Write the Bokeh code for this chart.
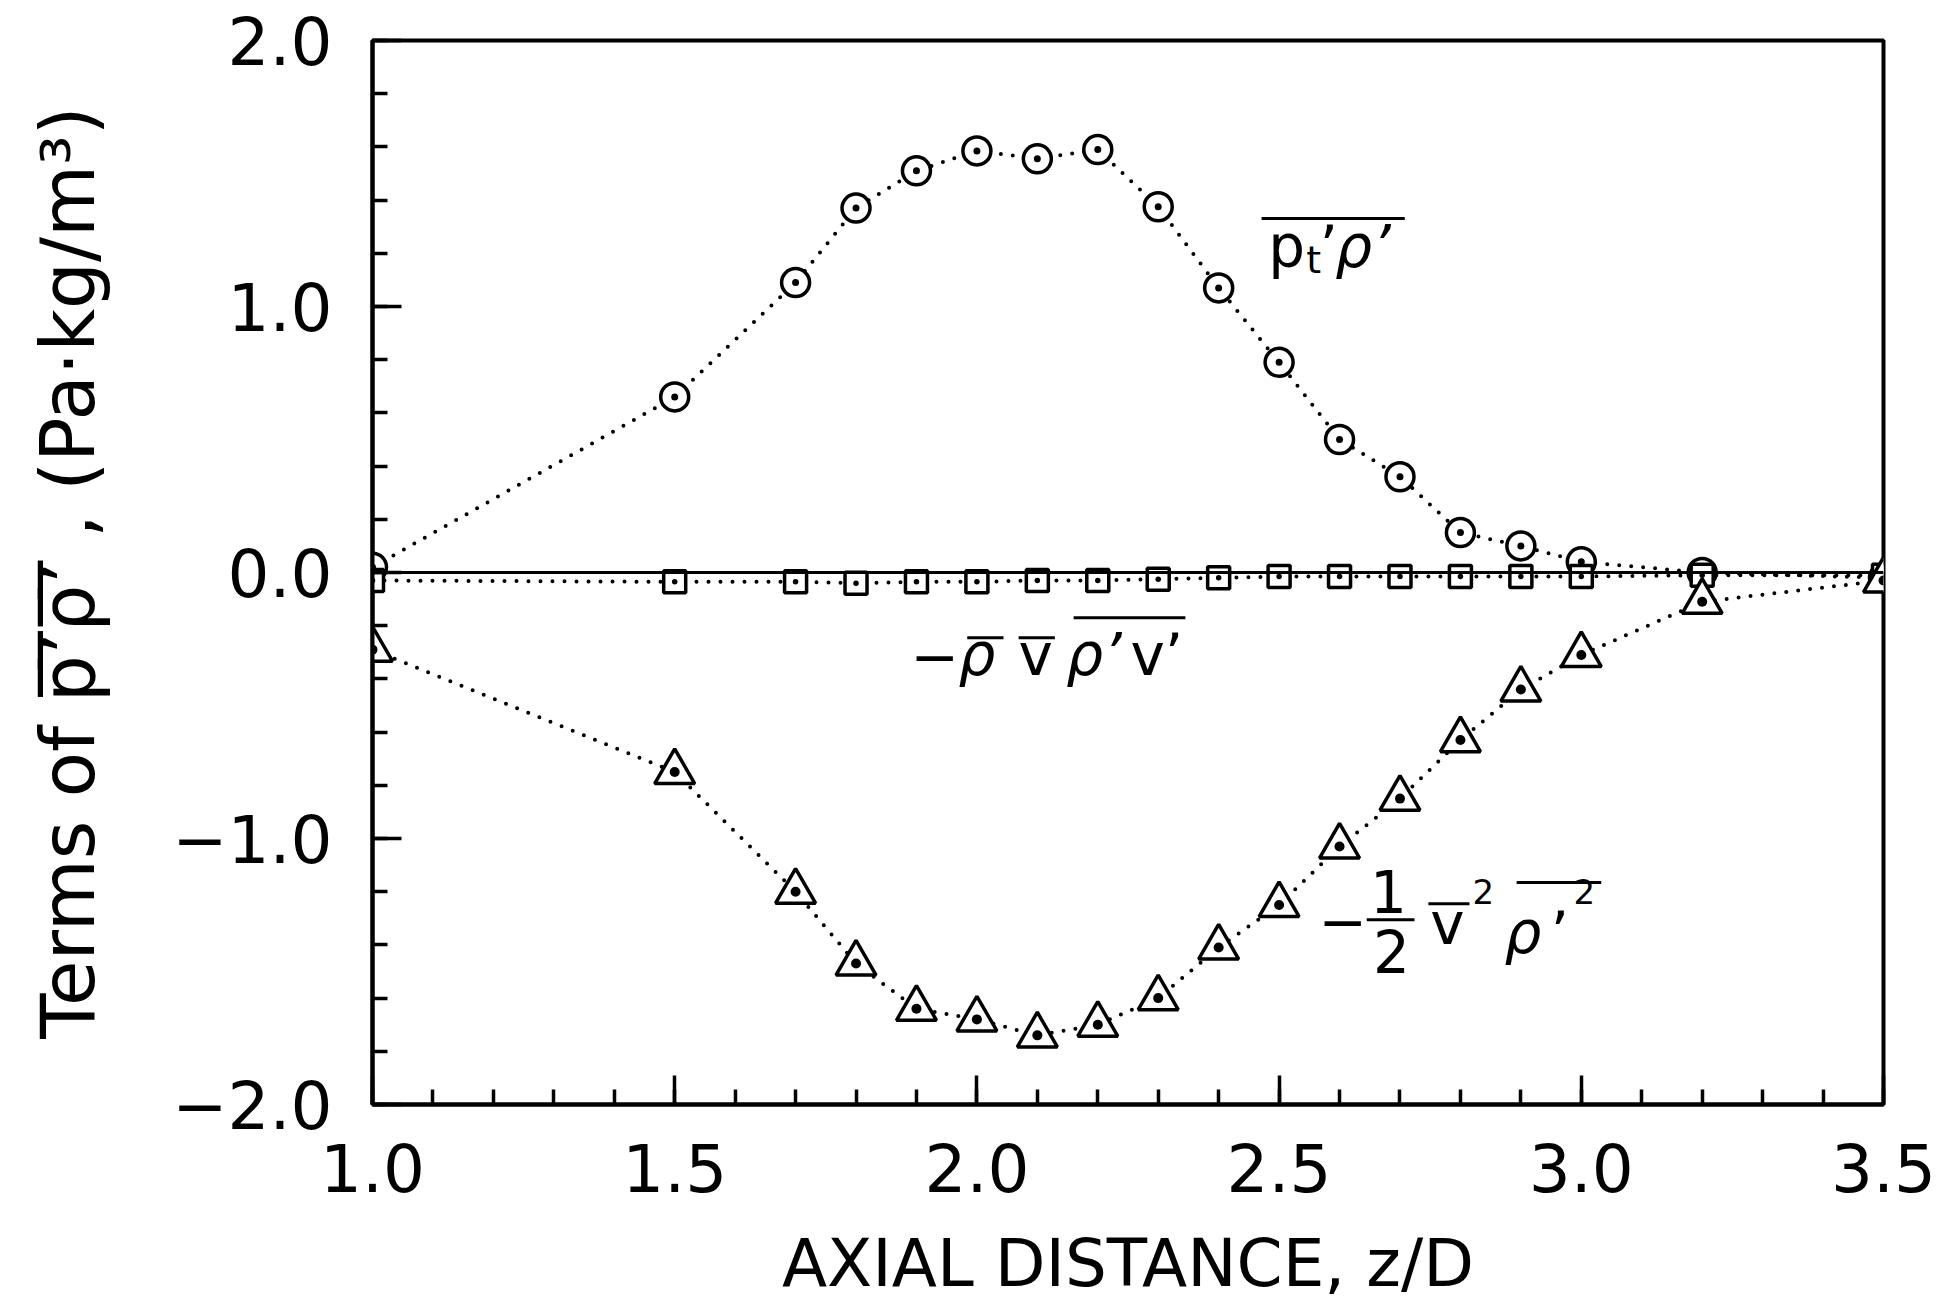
from bokeh.plotting import figure
from bokeh.models import Range1d, FixedTicker, Label, Span, ColumnDataSource
from bokeh.embed import file_html
from bokeh.resources import INLINE

# ---- data -------------------------------------------------------------
z_over_d = [1.0, 1.5, 1.7, 1.8, 1.9, 2.0, 2.1, 2.2, 2.3, 2.4, 2.5, 2.6, 2.7, 2.8,
            2.9, 3.0, 3.2, 3.5]
# p_t' rho' correlation (circles)
pt_rho = [0.02, 0.66, 1.09, 1.37, 1.51, 1.585, 1.555, 1.59, 1.375, 1.07, 0.79,
          0.50, 0.36, 0.15, 0.10, 0.04, 0.0, -0.02]
# -rho_bar v_bar rho'v' (squares)
rho_v_flux = [-0.03, -0.035, -0.035, -0.04, -0.035, -0.035, -0.03, -0.03, -0.025,
              -0.02, -0.015, -0.015, -0.015, -0.015, -0.015, -0.015, -0.01, -0.01]
# -1/2 v_bar^2 rho'^2 (triangles)
half_v2_rho2 = [-0.29, -0.75, -1.20, -1.47, -1.64, -1.68, -1.74, -1.70, -1.60,
                -1.41, -1.25, -1.03, -0.85, -0.63, -0.44, -0.31, -0.11, -0.03]

x_ticks = [1.0, 1.5, 2.0, 2.5, 3.0, 3.5]
x_tick_labels = ["1.0", "1.5", "2.0", "2.5", "3.0", "3.5"]
x_minor = [round(1.0 + 0.1 * i, 2) for i in range(26)]
y_ticks = [-2, -1, 0, 1, 2]
y_tick_labels = ["\u22122.0", "\u22121.0", "0.0", "1.0", "2.0"]
y_minor = [round(-2.0 + 0.2 * i, 2) for i in range(21)]

x_title = "AXIAL DISTANCE, z/D"
y_title = "Terms of p\u0305\u2019\u0305\u03c1\u0305\u2019\u0305 , (Pa\u00b7kg/m\u00b3)"

FONT = "DejaVu Sans"

p = figure(width=1957, height=1306, output_backend="svg", toolbar_location=None,
           x_range=Range1d(1.0, 3.5), y_range=Range1d(-2.0, 2.0),
           min_border_left=372, min_border_right=74, min_border_top=40,
           min_border_bottom=202)
p.background_fill_color = "white"
p.border_fill_color = "white"
p.grid.visible = False
p.outline_line_color = "black"
p.outline_line_width = 4

for ax in (p.xaxis[0], p.yaxis[0]):
    ax.axis_line_width = 4
    ax.axis_line_color = "black"
    ax.major_tick_in = 29
    ax.major_tick_out = 0
    ax.minor_tick_in = 15
    ax.minor_tick_out = 0
    ax.major_tick_line_width = 3.5
    ax.minor_tick_line_width = 3.5
    ax.major_label_text_font = FONT
    ax.major_label_text_font_size = "66px"
    ax.major_label_text_color = "black"
    ax.axis_label_text_font = FONT
    ax.axis_label_text_font_style = "normal"
    ax.axis_label_text_color = "black"

p.xaxis.ticker = FixedTicker(ticks=x_ticks, minor_ticks=x_minor)
p.xaxis.major_label_overrides = dict(zip(x_ticks, x_tick_labels))
p.xaxis.major_label_standoff = 38
p.xaxis.axis_label = x_title
p.xaxis.axis_label_text_font_size = "66px"
p.xaxis.axis_label_standoff = 30

p.yaxis.ticker = FixedTicker(ticks=y_ticks, minor_ticks=y_minor)
p.yaxis.major_label_overrides = dict(zip(y_ticks, y_tick_labels))
p.yaxis.major_label_standoff = 40
p.yaxis.axis_label = y_title
p.yaxis.axis_label_text_font_size = "74px"
p.yaxis.axis_label_standoff = 58

src = ColumnDataSource(dict(z=z_over_d, c=pt_rho, s=rho_v_flux, t=half_v2_rho2))

dots = dict(line_color="black", line_width=4, line_dash="0 12", line_cap="round")
for col in ("c", "s", "t"):
    p.line("z", col, source=src, **dots)

p.scatter("z", "c", source=src, marker="circle_dot", size=28, line_width=3.5,
          line_color="black", fill_color="white")
p.scatter("z", "s", source=src, marker="square_dot", size=22, line_width=3.5,
          line_color="black", fill_color="white")
p.scatter("z", "t", source=src, marker="triangle_dot", size=40, line_width=3.5,
          line_color="black", fill_color="white")

p.add_layout(Span(location=0, dimension="width", line_color="black", line_width=3))


def txt(x, y, s, size=58, italic=False, align="left"):
    p.add_layout(Label(x=x, y=y, text=s, text_font=FONT,
                       text_font_size=f"{size}px",
                       text_font_style="italic" if italic else "normal",
                       text_align=align, text_baseline="alphabetic",
                       text_color="black"))


def bar(x0, x1, y, w=3):
    p.segment(x0=[x0], y0=[y], x1=[x1], y1=[y], line_color="black", line_width=w)


# curve label: overline p_t' rho'
bar(2.471, 2.708, 1.331)
txt(2.482, 1.224, "p")
txt(2.545, 1.175, "t", size=38)
txt(2.567, 1.224, "\u2019")
txt(2.593, 1.224, "\u03c1\u2019", italic=True)

# curve label: - rho_bar v_bar overline(rho' v')
txt(1.890, -0.311, "\u2212")
txt(1.9695, -0.311, "\u03c1", italic=True)
bar(1.984, 2.044, -0.245)
txt(2.069, -0.311, "v")
bar(2.069, 2.129, -0.245)
txt(2.148, -0.311, "\u03c1\u2019", italic=True)
txt(2.254, -0.311, "v\u2019")
bar(2.160, 2.345, -0.17)

# curve label: -1/2 v_bar^2 overline(rho'^2)
txt(2.565, -1.31, "\u2212")
txt(2.681, -1.20, "1", align="center")
bar(2.645, 2.724, -1.305)
txt(2.686, -1.425, "2", align="center")
txt(2.750, -1.32, "v")
bar(2.747, 2.815, -1.245)
txt(2.820, -1.20, "2", size=34)
txt(2.873, -1.355, "\u03c1", italic=True)
txt(2.949, -1.355, "\u2019")
txt(2.987, -1.20, "2", size=34)
bar(2.893, 3.033, -1.165)

open("out.html", "w").write(file_html(p, INLINE))
